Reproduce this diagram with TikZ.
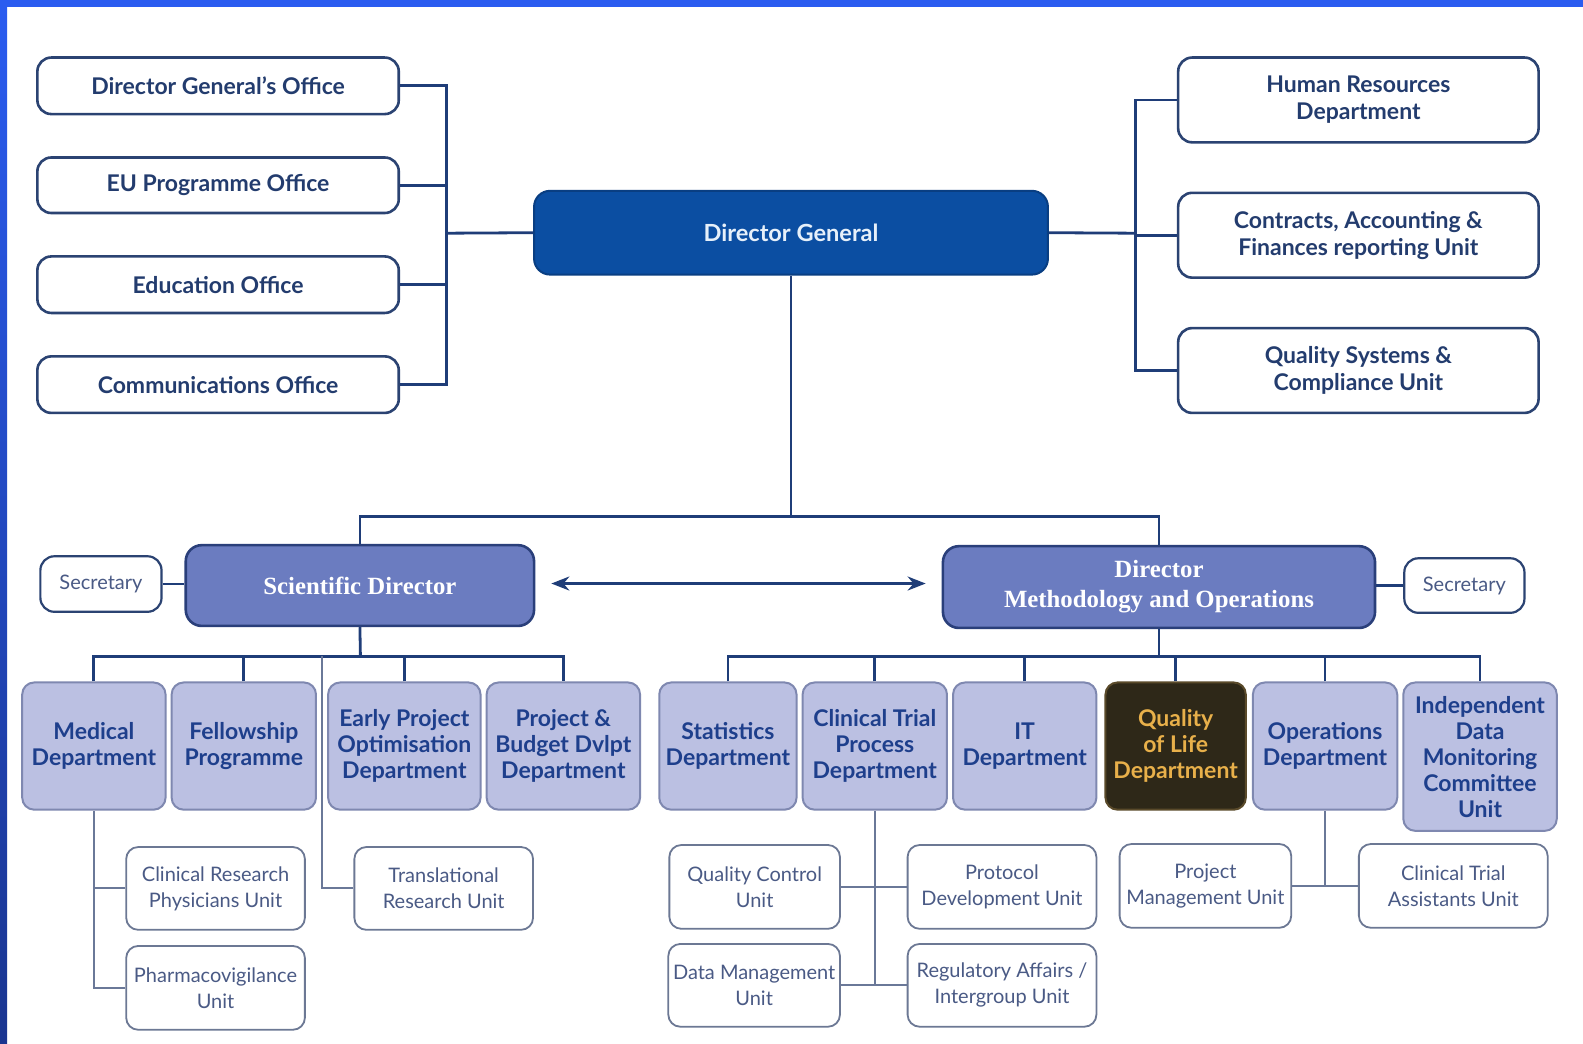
\documentclass[tikz,border=0pt]{standalone}
\usepackage{fontspec}
\setmainfont{Lato}
\newfontfamily\dirfont{Liberation Serif}
\usetikzlibrary{arrows.meta}
\definecolor{navy}{HTML}{1F3D78}
\definecolor{officetxt}{HTML}{233C6E}
\definecolor{officebd}{HTML}{2B4372}
\definecolor{dgfill}{HTML}{0B4EA2}
\definecolor{dgtxt}{HTML}{E6F0FA}
\definecolor{dirfill}{HTML}{6B7CC0}
\definecolor{dirbd}{HTML}{2A3F7A}
\definecolor{deptfill}{HTML}{BBC0E2}
\definecolor{deptbd}{HTML}{7F88B0}
\definecolor{depttxt}{HTML}{1E3F8C}
\definecolor{unitbd}{HTML}{6C7894}
\definecolor{unittxt}{HTML}{4A5A85}
\definecolor{subline}{HTML}{6A7898}
\definecolor{qolfill}{HTML}{2E2818}
\definecolor{qolbd}{HTML}{5A4A2A}
\definecolor{qoltxt}{HTML}{E8B04A}
\definecolor{bandtop}{HTML}{2A5CF0}
\definecolor{bandbot}{HTML}{1A3590}
\tikzset{
  x=0.505pt, y=-0.505pt,
  boxbase/.style={inner sep=0pt, align=center},
  office/.style={boxbase, draw=officebd, line width=1.3pt, fill=white, rounded corners=7pt,
    text=officetxt, font=\fontsize{11.5}{13.6}\selectfont\bfseries},
  dgbox/.style={boxbase, draw=dgfill!80!black, line width=1pt, fill=dgfill, rounded corners=8pt,
    text=dgtxt, font=\fontsize{11.8}{14}\selectfont\bfseries},
  dirbox/.style={boxbase, draw=dirbd, line width=1.3pt, fill=dirfill, rounded corners=8pt,
    text=white, font=\dirfont\fontsize{12.4}{15}\selectfont\bfseries},
  secbox/.style={boxbase, draw=officebd, line width=1.1pt, fill=white, rounded corners=7pt,
    text=unittxt, font=\fontsize{10}{12}\selectfont},
  dept/.style={boxbase, draw=deptbd, line width=1pt, fill=deptfill, rounded corners=6pt,
    text=depttxt, font=\fontsize{11.5}{13}\selectfont\bfseries},
  qol/.style={dept, draw=qolbd, fill=qolfill, text=qoltxt},
  unit/.style={boxbase, draw=unitbd, line width=0.9pt, fill=white, rounded corners=6pt,
    text=unittxt, font=\fontsize{10}{13}\selectfont},
  conn/.style={draw=navy, line width=1.4pt},
  subconn/.style={draw=subline, line width=1pt},
  biarrow/.style={draw=navy, line width=1.4pt, {Stealth[length=9pt,width=7pt]}-{Stealth[length=9pt,width=7pt]}},
}
% box by corners: name, style, x1, y1, x2, y2, text
\newcommand\bx[7]{%
  \pgfmathsetmacro\bxcx{(#3+#5)/2}%
  \pgfmathsetmacro\bxcy{(#4+#6)/2}%
  \pgfmathsetmacro\bxw{(#5-#3)*0.505}%
  \pgfmathsetmacro\bxh{(#6-#4)*0.505}%
  \node[#2, minimum width=\bxw pt, minimum height=\bxh pt] (#1) at (\bxcx,\bxcy) {#7};}
\begin{document}
\begin{tikzpicture}
\useasboundingbox (0,0) rectangle (1568,1034);
\fill[white] (0,0) rectangle (1568,1034);
\shade[top color=bandtop, bottom color=bandbot] (0,0) rectangle (7,1034);
\fill[bandtop] (0,0) rectangle (1568,7);

% top-left offices
\bx{dgo}{office}{37}{57}{395}{113}{Director General’s Office}
\bx{eup}{office}{37}{156}{395}{211}{EU Programme Office}
\bx{edu}{office}{37}{254}{395}{310}{Education Office}
\bx{com}{office}{37}{353}{395}{409}{Communications Office}

% director general
\bx{dg}{dgbox}{529}{189}{1038}{272}{Director General}

% top-right units
\bx{hr}{office}{1167}{57}{1524}{141}{Human Resources\\Department}
\bx{caf}{office}{1167}{191}{1524}{275}{Contracts, Accounting \&\\Finances reporting Unit}
\bx{qsc}{office}{1167}{325}{1524}{409}{Quality Systems \&\\Compliance Unit}

% directors
\bx{sd}{dirbox}{184}{540}{529}{620}{Scientific Director}
\bx{dmo}{dirbox}{934}{541}{1362}{622}{Director\\Methodology and Operations}
\bx{sec1}{secbox}{40}{551}{160}{606}{Secretary}
\bx{sec2}{secbox}{1391}{553}{1510}{607}{Secretary}

% left departments
\bx{med}{dept}{22}{676}{164}{802}{Medical\\Department}
\bx{fel}{dept}{170}{676}{313}{802}{Fellowship\\Programme}
\bx{epo}{dept}{325}{676}{476}{802}{Early Project\\Optimisation\\Department}
\bx{pbd}{dept}{482}{676}{634}{802}{Project \&\\Budget Dvlpt\\Department}

% right departments
\bx{sta}{dept}{653}{676}{789}{802}{Statistics\\Department}
\bx{ctp}{dept}{795}{676}{938}{802}{Clinical Trial\\Process\\Department}
\bx{itd}{dept}{944}{676}{1086}{802}{IT\\Department}
\bx{qol}{qol}{1095}{676}{1234}{802}{Quality\\of Life\\Department}
\bx{ops}{dept}{1241}{676}{1384}{802}{Operations\\Department}
\bx{idm}{dept}{1390}{676}{1542}{823}{Independent\\Data\\Monitoring\\Committee\\Unit}

% units
\bx{crp}{unit}{125}{839}{302}{921}{Clinical Research\\Physicians Unit}
\bx{pvu}{unit}{125}{937}{302}{1020}{Pharmacovigilance\\Unit}
\bx{tru}{unit}{351}{839}{528}{921}{Translational\\Research Unit}
\bx{qcu}{unit}{663}{837}{832}{920}{Quality Control\\Unit}
\bx{pdu}{unit}{899}{837}{1086}{920}{Protocol\\Development Unit}
\bx{dmu}{unit}{662}{935}{832}{1017}{Data Management\\Unit}
\bx{rau}{unit}{899}{935}{1086}{1017}{Regulatory Affairs /\\Intergroup Unit}
\bx{pmu}{unit}{1109}{836}{1279}{919}{Project\\Management Unit}
\bx{cta}{unit}{1346}{836}{1533}{919}{Clinical Trial\\Assistants Unit}

% buses
\coordinate (lbus) at (442,231);
\coordinate (rbus) at (1125,231);
\coordinate (mbus) at (781,512);
\coordinate (sbus) at (357,650);
\coordinate (tbus) at (319,650);
\coordinate (obus) at (1148,650);

% connectors: offices
\draw[conn] (dgo.east) -| (lbus);
\draw[conn] (eup.east) -| (lbus);
\draw[conn] (edu.east) -| (lbus);
\draw[conn] (com.east) -| (lbus);
\draw[conn] (lbus) -- (dg.west);
\draw[conn] (hr.west) -| (rbus);
\draw[conn] (caf.west) -| (rbus);
\draw[conn] (qsc.west) -| (rbus);
\draw[conn] (dg.east) -- (rbus);

% DG to directors
\draw[conn] (dg.south) -- (dg.south |- mbus);
\draw[conn] (sd.north) -- (sd.north |- mbus) -- (dmo.north |- mbus) -- (dmo.north);
\draw[conn] (sec1.east) -- (sec1.east -| sd.west);
\draw[conn] (sec2.west) -- (sec2.west -| dmo.east);
\draw[biarrow] ([xshift=8pt]sd.east |- 0,578) -- ([xshift=-8pt]dmo.west |- 0,578);

% scientific director departments
\draw[conn] (sd.south) -- (sbus);
\draw[conn] (med.north) -- (med.north |- sbus) -- (pbd.north |- sbus) -- (pbd.north);
\draw[conn] (fel.north) -- (fel.north |- sbus);
\draw[conn] (epo.north) -- (epo.north |- sbus);
\draw[subconn] (tru.west) -| (tbus);
\draw[subconn] (crp.west) -| (med.south);
\draw[subconn] (pvu.west) -| (med.south);

% methodology departments
\draw[conn] (dmo.south) -- (obus);
\draw[conn] (sta.north) -- (sta.north |- obus) -- (idm.north |- obus) -- (idm.north);
\draw[conn] (ctp.north) -- (ctp.north |- obus);
\draw[conn] (itd.north) -- (itd.north |- obus);
\draw[conn] (qol.north) -- (qol.north |- obus);
\draw[conn] (ops.north) -- (ops.north |- obus);
\draw[subconn] (qcu.east) -| (ctp.south);
\draw[subconn] (pdu.west) -| (ctp.south);
\draw[subconn] (dmu.east) -| (ctp.south);
\draw[subconn] (rau.west) -| (ctp.south);
\draw[subconn] (pmu.east) -| (ops.south);
\draw[subconn] (cta.west) -| (ops.south);
\end{tikzpicture}
\end{document}
